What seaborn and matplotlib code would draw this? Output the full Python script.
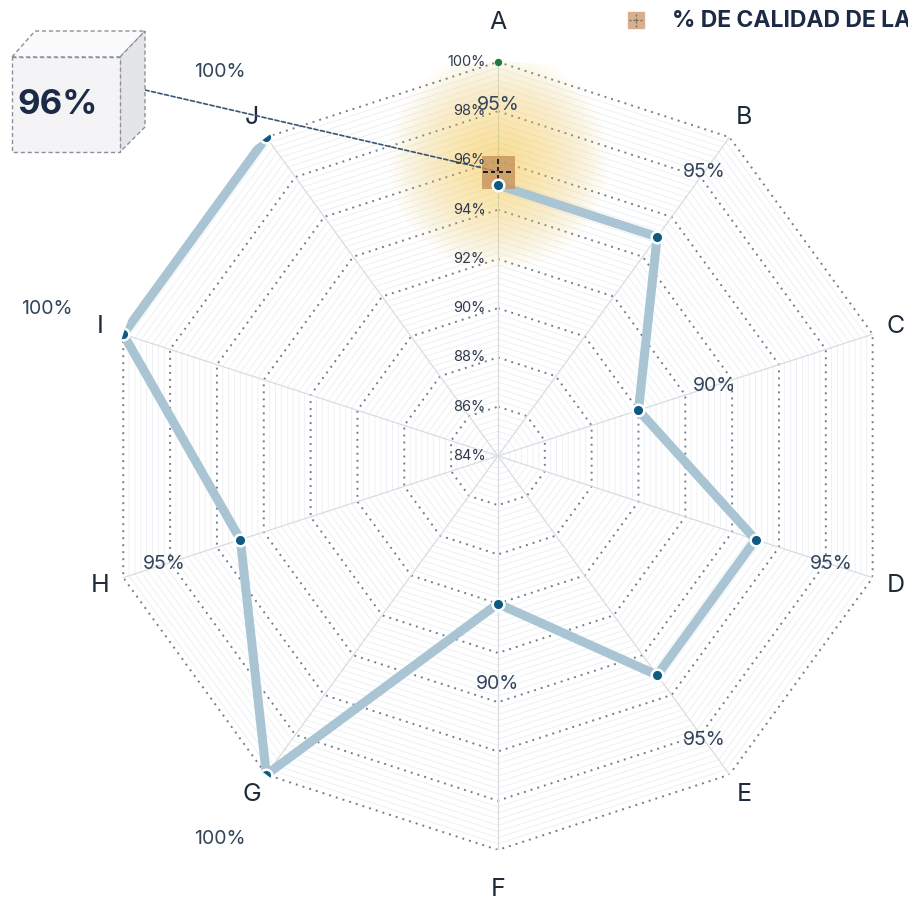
import numpy as np
import pandas as pd
import matplotlib.pyplot as plt
import seaborn as sns
from matplotlib.path import Path
from matplotlib.patches import Polygon
from matplotlib.lines import Line2D

# Datos
categorias = ["A", "B", "C", "D", "E", "F", "G", "H", "I", "J"]
valores = [95, 95, 90, 95, 95, 90, 100, 95, 100, 100]
etiquetas = ["95%", "95%", "90%", "95%", "95%", "90%", "100%", "95%", "100%", "100%"]
ticks = [84, 86, 88, 90, 92, 94, 96, 98, 100]
valor_destacado = "96%"
leyenda = "% DE CALIDAD DE LA"

sns.set_theme(style="white")
plt.rcParams['font.family'] = ['Inter', 'DejaVu Sans']

n = len(categorias)
ang = np.arange(n) * 2 * np.pi / n
df = pd.DataFrame({"ang": ang, "valor": valores, "cat": categorias})
df_cerrado = pd.concat([df, df.iloc[[0]]], ignore_index=True)

fig = plt.figure(figsize=(9.08, 9.0), dpi=100)
ax = fig.add_axes([0.1145, 0.0556, 0.8678, 0.8756], projection="polar")
ax.set_theta_zero_location("N")
ax.set_theta_direction(-1)
ax.set_ylim(84, 100)
ax.grid(False)
ax.spines["polar"].set_visible(False)
ax.set_xticks([])
ax.set_yticks([])

# rejilla poligonal
ang_c = np.append(ang, ang[0])
for r in np.arange(84.25, 100.01, 0.25):
    if abs(r - round(r)) < 1e-6 and round(r) % 2 == 0:
        continue
    ax.plot(ang_c, [r] * (n + 1), color="#eaedf1", lw=0.55, zorder=1)
for r in ticks[1:]:
    ax.plot(ang_c, [r] * (n + 1), color="#737d8e", lw=1.4,
            linestyle=(0, (1, 2.6)), zorder=2)
for a in ang:
    ax.plot([a, a], [84, 100], color="#d9dce1", lw=0.9, zorder=2)

# brillo amarillo en A
for d in np.linspace(220, 20, 24):
    ax.scatter(0, 96.0, s=(d * 0.72) ** 2, color="#f9cf4f", alpha=0.032,
               lw=0, zorder=2)

# linea principal
sns.lineplot(data=df_cerrado, x="ang", y="valor", sort=False, ax=ax,
             color="#a9c4d2", lw=6.5, zorder=4, legend=False)

# marcador cuadrado con cruz discontinua
verts, codes = [], []
for k in range(4):
    a0 = -1 + k * 0.52
    verts += [(a0, 0), (a0 + 0.3, 0), (0, a0), (0, a0 + 0.3)]
    codes += [Path.MOVETO, Path.LINETO, Path.MOVETO, Path.LINETO]
cruz = Path(verts, codes)
ax.scatter(0, valores[0] + 0.55, marker="s", s=(33 * 0.72) ** 2, color="#c5935f",
           alpha=0.8, lw=0, zorder=5)
ax.scatter(0, valores[0] + 0.55, marker=cruz, s=(30 * 0.72) ** 2, color="#1c1c1c",
           lw=1.3, zorder=5)

sns.scatterplot(data=df, x="ang", y="valor", ax=ax, color="#0f5a82", s=70,
                edgecolor="white", linewidth=1.8, zorder=7, legend=False)
ax.scatter(0, 100, s=28, color="#1e7a3c", lw=0, zorder=7, clip_on=False)
ax.set_xlabel("")
ax.set_ylabel("")

# etiquetas de valores
for i in range(n):
    ax.text(ang[i], valores[i] + 3.25, etiquetas[i], ha="center", va="center",
            fontsize=14, color="#34455b", zorder=8, clip_on=False)

# etiquetas de categorias
for i in range(n):
    r_lab = 101.6 if abs(np.cos(ang[i])) > 0.99 else 101.0
    ax.text(ang[i], r_lab, categorias[i], ha="center", va="center",
            fontsize=18, color="#1f2b3a", clip_on=False)

# etiquetas del eje radial
for r in ticks:
    ax.annotate(f"{r}%", xy=(0, r), xytext=(-9, 0), textcoords="offset points",
                ha="right", va="center", fontsize=10.5, color="#2e3a4e", zorder=8)

# caja 3D con el valor destacado
def px(x, y):
    return (x / 908, 1 - y / 900)

caras = [
    ([(12, 57), (35, 31), (145, 31), (120, 57)], "#fbfbfc"),
    ([(120, 57), (145, 31), (145, 127), (120, 152)], "#e4e5e8"),
    ([(12, 57), (120, 57), (120, 152), (12, 152)], "#f4f4f6"),
]
for pts, c in caras:
    fig.patches.append(Polygon([px(*p) for p in pts], closed=True,
                               transform=fig.transFigure, facecolor=c,
                               edgecolor="#8a909b", lw=1.0, linestyle=(0, (3, 2))))
fig.text(*px(58, 105), valor_destacado, ha="center", va="center", fontsize=25,
         fontweight="bold", color="#1b2a45")

ax.annotate("", xy=(0, valores[0] + 0.55), xycoords="data",
            xytext=px(145, 90), textcoords="figure fraction",
            arrowprops=dict(arrowstyle="-", color="#3a5574", lw=1.2,
                            linestyle=(0, (2.5, 1.5)), shrinkA=0, shrinkB=0))

# leyenda
fig.add_artist(Line2D([636 / 908], [1 - 20 / 900], marker="s", color="#d8b08f",
                      markersize=11, lw=0, transform=fig.transFigure))
fig.add_artist(Line2D([636 / 908], [1 - 20 / 900], marker=cruz, color="#7a6a5a",
                      markersize=10, mew=1.0, lw=0, transform=fig.transFigure))
fig.text(*px(672, 21), leyenda, ha="left", va="center", fontsize=16.5,
         fontweight="bold", color="#1b2a45")

fig.savefig("out.png", dpi=100)
